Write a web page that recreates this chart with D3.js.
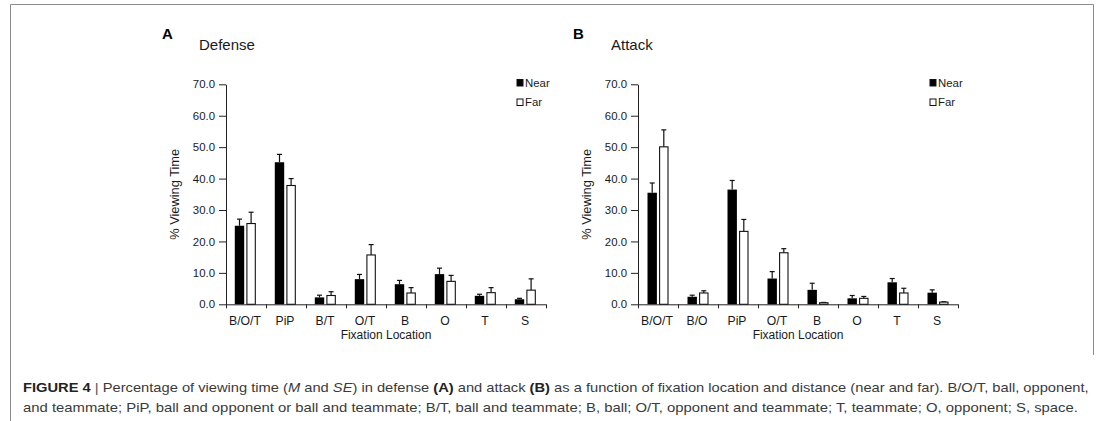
<!DOCTYPE html>
<html>
<head>
<meta charset="utf-8">
<script src="https://cdn.jsdelivr.net/npm/d3@7/dist/d3.min.js"></script>
<style>
  html, body { margin: 0; padding: 0; background: #fff; }
  svg { display: block; }
  text { font-family: "Liberation Sans", Arial, sans-serif; }
</style>
</head>
<body>
<svg id="fig" width="1105" height="421"></svg>
<script>
// Fixation location categories per panel
const defenseCategories = ["B/O/T", "PiP", "B/T", "O/T", "B", "O", "T", "S"];
const attackCategories  = ["B/O/T", "B/O", "PiP", "O/T", "B", "O", "T", "S"];

// Mean % viewing time and standard errors
const defenseNear   = [25.0, 45.2, 2.2, 8.0, 6.4, 9.6, 2.7, 1.6];
const defenseNearSE = [2.1, 2.5, 0.7, 1.5, 1.2, 1.9, 0.5, 0.3];
const defenseFar    = [25.7, 37.8, 2.8, 15.7, 3.6, 7.3, 3.7, 4.5];
const defenseFarSE  = [3.6, 2.2, 1.2, 3.3, 1.7, 1.9, 1.6, 3.6];

const attackNear    = [35.5, 2.4, 36.5, 8.2, 4.6, 1.9, 7.0, 3.7];
const attackNearSE  = [3.1, 0.5, 2.9, 2.2, 2.1, 0.9, 1.2, 0.9];
const attackFar     = [50.1, 3.6, 23.2, 16.4, 0.5, 1.9, 3.6, 0.7];
const attackFarSE   = [5.4, 0.7, 3.8, 1.3, 0.1, 0.6, 1.5, 0.1];

const seriesNames = ["Near", "Far"];
const yTicks = [0, 10, 20, 30, 40, 50, 60, 70];

const svg = d3.select("#fig");

// figure frame: top and right edges around the plots, left rule down past the caption
const frame = svg.append("g").attr("stroke", "#8a8a8a").attr("stroke-width", 1).attr("fill", "none");
frame.append("path").attr("d", "M10.5,421 V4.5 H1093.5 V355");

function drawPanel(cfg) {
  const g = svg.append("g").attr("transform", `translate(${cfg.left},0)`);
  const top = 84.3, bottom = 304.3, width = 320;

  const y = d3.scaleLinear().domain([0, 70]).range([bottom, top]);
  const x0 = d3.scaleBand().domain(cfg.categories).range([0, width]);
  const x1 = d3.scaleBand().domain(seriesNames)
    .range([cfg.inner0, cfg.inner1]).paddingInner(0.19);

  // panel letter and title
  svg.append("text").attr("x", cfg.letterX).attr("y", 39)
    .attr("font-size", 15).attr("font-weight", "bold").attr("fill", "#000")
    .text(cfg.letter);
  svg.append("text").attr("x", cfg.titleX).attr("y", 50)
    .attr("font-size", 15).attr("fill", "#1a1a1a")
    .text(cfg.title);

  // y axis
  const yAxis = d3.axisLeft(y).tickValues(yTicks).tickFormat(d3.format(".1f"))
    .tickSize(7).tickSizeOuter(0).tickPadding(4);
  const ya = g.append("g").call(yAxis);
  ya.select(".domain").attr("stroke", "#222");
  ya.selectAll(".tick line").attr("stroke", "#222");
  ya.selectAll(".tick text").attr("font-size", 11.4).attr("fill", "#1a1a1a")
    .attr("font-family", "Liberation Sans, Arial, sans-serif");

  // y axis title
  g.append("text")
    .attr("transform", `translate(${-47},${(top + bottom) / 2}) rotate(-90)`)
    .attr("text-anchor", "middle").attr("font-size", 12.8).attr("fill", "#1a1a1a")
    .text("% Viewing Time");

  // bars
  const rows = cfg.categories.map((c, i) => ({
    cat: c,
    vals: [
      { key: "Near", v: cfg.near[i], se: cfg.nearSE[i] },
      { key: "Far",  v: cfg.far[i],  se: cfg.farSE[i] }
    ]
  }));
  const grp = g.selectAll("g.cat").data(rows).join("g")
    .attr("class", "cat")
    .attr("transform", d => `translate(${x0(d.cat)},0)`);

  // error bars (upper only)
  grp.selectAll("line.err").data(d => d.vals).join("line")
    .attr("class", "err")
    .attr("x1", d => x1(d.key) + x1.bandwidth() / 2)
    .attr("x2", d => x1(d.key) + x1.bandwidth() / 2)
    .attr("y1", d => y(d.v)).attr("y2", d => y(d.v + d.se))
    .attr("stroke", "#111").attr("stroke-width", 1.2);
  grp.selectAll("line.cap").data(d => d.vals).join("line")
    .attr("class", "cap")
    .attr("x1", d => x1(d.key) + x1.bandwidth() / 2 - 2.5)
    .attr("x2", d => x1(d.key) + x1.bandwidth() / 2 + 2.5)
    .attr("y1", d => y(d.v + d.se)).attr("y2", d => y(d.v + d.se))
    .attr("stroke", "#111").attr("stroke-width", 1.2);

  grp.selectAll("rect").data(d => d.vals).join("rect")
    .attr("x", d => x1(d.key) + (d.key === "Far" ? 0.5 : 0))
    .attr("width", d => x1.bandwidth() - (d.key === "Far" ? 1 : 0))
    .attr("y", d => y(d.v))
    .attr("height", d => y(0) - y(d.v))
    .attr("fill", d => d.key === "Near" ? "#000" : "#fff")
    .attr("stroke", d => d.key === "Near" ? "none" : "#111")
    .attr("stroke-width", 1.1);

  // x axis: baseline with ticks at category boundaries
  const xa = g.append("g").attr("transform", `translate(0,${bottom})`);
  xa.append("line").attr("x1", 0).attr("x2", width)
    .attr("y1", 0.5).attr("y2", 0.5).attr("stroke", "#222");
  const bounds = cfg.categories.map(c => x0(c)).concat([width]);
  xa.selectAll("line.tk").data(bounds).join("line").attr("class", "tk")
    .attr("x1", d => Math.round(d) + 0.5).attr("x2", d => Math.round(d) + 0.5)
    .attr("y1", 0).attr("y2", 4).attr("stroke", "#222");
  xa.selectAll("text.cl").data(cfg.categories).join("text").attr("class", "cl")
    .attr("x", d => x0(d) + x0.bandwidth() / 2 - 1).attr("y", 21)
    .attr("text-anchor", "middle").attr("font-size", 12.2).attr("fill", "#1a1a1a")
    .text(d => d);
  g.append("text").attr("x", width / 2).attr("y", 339)
    .attr("text-anchor", "middle").attr("font-size", 12).attr("fill", "#1a1a1a")
    .text("Fixation Location");

  // legend
  const lg = g.append("g").attr("transform", `translate(${cfg.legendX},0)`);
  seriesNames.forEach((s, i) => {
    const yy = 79 + i * 19.5;
    lg.append("rect").attr("x", 0.5).attr("y", yy + 0.5).attr("width", 6).attr("height", 6.5)
      .attr("fill", s === "Near" ? "#000" : "#fff")
      .attr("stroke", "#111").attr("stroke-width", 1);
    lg.append("text").attr("x", 8.5).attr("y", yy + 7.5)
      .attr("font-size", 11.4).attr("fill", "#1a1a1a").text(s);
  });
}

drawPanel({
  left: 226, letter: "A", letterX: 162, title: "Defense", titleX: 199,
  categories: defenseCategories,
  near: defenseNear, nearSE: defenseNearSE, far: defenseFar, farSE: defenseFarSE,
  inner0: 8.8, inner1: 29.8, legendX: 290.5
});
drawPanel({
  left: 638, letter: "B", letterX: 573, title: "Attack", titleX: 611,
  categories: attackCategories,
  near: attackNear, nearSE: attackNearSE, far: attackFar, farSE: attackFarSE,
  inner0: 9.5, inner1: 30.5, legendX: 291.5
});

// caption, two lines fitted to the text block width
function captionLine(parts, yBase, targetW) {
  const t = svg.append("text").attr("x", 0).attr("y", 0)
    .attr("font-size", 13).attr("fill", "#3a3a3a")
    .attr("font-family", "Liberation Sans, Arial, sans-serif");
  parts.forEach(p => {
    const ts = t.append("tspan").text(p.t);
    if (p.b) ts.attr("font-weight", "bold").attr("fill", "#222");
    if (p.i) ts.attr("font-style", "italic");
    if (p.c) ts.attr("fill", p.c);
  });
  const w = t.node().getComputedTextLength();
  t.attr("transform", `translate(23,${yBase}) scale(${targetW / w},1)`);
}
captionLine([
  { t: "FIGURE 4", b: true },
  { t: "  |  ", c: "#555" },
  { t: "Percentage of viewing time (" },
  { t: "M", i: true },
  { t: " and " },
  { t: "SE", i: true },
  { t: ") in defense " },
  { t: "(A)", b: true },
  { t: " and attack " },
  { t: "(B)", b: true },
  { t: " as a function of fixation location and distance (near and far). B/O/T, ball, opponent," }
], 392, 1067);
captionLine([
  { t: "and teammate; PiP, ball and opponent or ball and teammate; B/T, ball and teammate; B, ball; O/T, opponent and teammate; T, teammate; O, opponent; S, space." }
], 412, 1056);
</script>
</body>
</html>
